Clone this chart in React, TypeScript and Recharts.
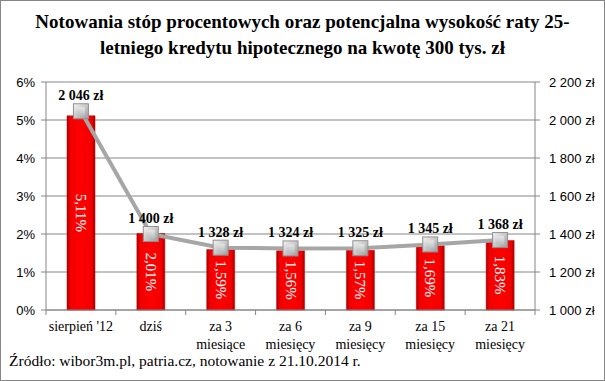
import React from "react";
import {
  ComposedChart,
  Bar,
  Line,
  XAxis,
  YAxis,
  CartesianGrid,
  LabelList,
} from "recharts";

const categories = [
  "sierpień '12",
  "dziś",
  "za 3\nmiesiące",
  "za 6\nmiesięcy",
  "za 9\nmiesięcy",
  "za 15\nmiesięcy",
  "za 21\nmiesięcy",
];
const rates = [5.11, 2.01, 1.59, 1.56, 1.57, 1.69, 1.83];
const payments = [2046, 1400, 1328, 1324, 1325, 1345, 1368];
const rateTicks = [0, 1, 2, 3, 4, 5, 6];
const paymentTicks = [1000, 1200, 1400, 1600, 1800, 2000, 2200];

const data = categories.map((name, i) => ({
  name,
  rate: rates[i],
  payment: payments[i],
}));

const SERIF = "'Liberation Serif', 'DejaVu Serif', serif";
const SANS = "'Liberation Sans', Arial, sans-serif";
const GRID = "#868686";

const fmtZl = (v: number) =>
  `${String(v).replace(/\B(?=(\d{3})+(?!\d))/g, " ")} zł`;
const fmtPct = (v: number) => `${v.toFixed(2).replace(".", ",")}%`;

function XTick(props: any) {
  const { x, y, payload, index } = props;
  const half = payload?.offset || 35;
  const lines = String(payload.value).split("\n");
  return (
    <g>
      <line x1={x - half} y1={y} x2={x - half} y2={y + 5} stroke={GRID} />
      {index === categories.length - 1 && (
        <line x1={x + half} y1={y} x2={x + half} y2={y + 5} stroke={GRID} />
      )}
      {lines.map((l, i) => (
        <text
          key={i}
          x={x}
          y={y + 21 + i * 18}
          textAnchor="middle"
          fontFamily={SERIF}
          fontSize={14}
          fill="#000"
        >
          {l}
        </text>
      ))}
    </g>
  );
}

function Marker(props: any) {
  const { cx, cy } = props;
  if (cx == null || cy == null) return null;
  return (
    <g>
      <rect
        x={cx - 7.5}
        y={cy - 7.5}
        width={15}
        height={15}
        fill="url(#markerGrad)"
        stroke="#8f8f8f"
        strokeWidth={1}
      />
      <rect x={cx - 4} y={cy - 4} width={8} height={8} fill="url(#markerInner)" />
    </g>
  );
}

function PaymentLabel(props: any) {
  const { x, y, value } = props;
  return (
    <text
      x={x}
      y={y - 11}
      textAnchor="middle"
      fontFamily={SERIF}
      fontWeight="bold"
      fontSize={14}
      fill="#000"
    >
      {fmtZl(value)}
    </text>
  );
}

function RateLabel(props: any) {
  const { x, y, width, height, value } = props;
  const cx = x + width / 2;
  const cy = y + height / 2;
  return (
    <text
      x={cx}
      y={cy}
      transform={`rotate(90 ${cx} ${cy})`}
      textAnchor="middle"
      dominantBaseline="central"
      fontFamily={SERIF}
      fontSize={15}
      fill="#fff"
    >
      {fmtPct(value)}
    </text>
  );
}

export default function App() {
  return (
    <div
      style={{
        position: "absolute",
        left: 0,
        top: 0,
        width: 605,
        height: 381,
        boxSizing: "border-box",
        border: "1px solid #868686",
        background: "#fff",
        overflow: "hidden",
      }}
    >
      <div
        style={{
          position: "absolute",
          left: 0,
          top: 8,
          width: 603,
          textAlign: "center",
          fontFamily: SERIF,
          fontWeight: "bold",
          fontSize: 19,
          lineHeight: "26px",
          color: "#000",
        }}
      >
        Notowania stóp procentowych oraz potencjalna wysokość raty 25-
        <br />
        letniego kredytu hipotecznego na kwotę 300 tys. zł
      </div>
      <div style={{ position: "absolute", left: -1, top: -1 }}>
        <ComposedChart
          width={605}
          height={381}
          data={data}
          margin={{ top: 82, right: 0, bottom: 31, left: 0 }}
        >
          <defs>
            <linearGradient id="barGrad" x1="0" y1="0" x2="1" y2="0">
              <stop offset="0%" stopColor="#a80000" />
              <stop offset="12%" stopColor="#f20000" />
              <stop offset="50%" stopColor="#ff0000" />
              <stop offset="88%" stopColor="#f20000" />
              <stop offset="100%" stopColor="#a80000" />
            </linearGradient>
            <linearGradient id="markerGrad" x1="0" y1="0" x2="1" y2="1">
              <stop offset="0%" stopColor="#f4f4f4" />
              <stop offset="100%" stopColor="#9c9c9c" />
            </linearGradient>
            <linearGradient id="markerInner" x1="0" y1="0" x2="0" y2="1">
              <stop offset="0%" stopColor="#e6e6e6" />
              <stop offset="100%" stopColor="#bdbdbd" />
            </linearGradient>
          </defs>
          <CartesianGrid
            yAxisId="left"
            vertical={false}
            stroke={GRID}
            strokeWidth={1}
          />
          <XAxis
            dataKey="name"
            height={40}
            interval={0}
            tickLine={false}
            tickSize={0}
            tickMargin={0}
            axisLine={{ stroke: GRID }}
            tick={<XTick />}
          />
          <YAxis
            yAxisId="left"
            width={46}
            domain={[0, 6]}
            ticks={rateTicks}
            tickFormatter={(v: number) => `${v}%`}
            axisLine={{ stroke: GRID }}
            tickLine={{ stroke: GRID }}
            tickSize={5}
            tickMargin={6}
            tick={{ fill: "#000", fontSize: 13, fontFamily: SANS }}
          />
          <YAxis
            yAxisId="right"
            orientation="right"
            width={70}
            domain={[1000, 2200]}
            ticks={paymentTicks}
            tickFormatter={fmtZl}
            axisLine={{ stroke: GRID }}
            tickLine={{ stroke: GRID }}
            tickSize={5}
            tickMargin={9}
            tick={{ fill: "#000", fontSize: 13, fontFamily: SANS }}
          />
          <Bar
            yAxisId="left"
            dataKey="rate"
            barSize={28}
            fill="url(#barGrad)"
            stroke="#c00000"
            strokeWidth={0.5}
            isAnimationActive={false}
          >
            <LabelList dataKey="rate" content={<RateLabel />} />
          </Bar>
          <Line
            yAxisId="right"
            dataKey="payment"
            stroke="#a6a6a6"
            strokeWidth={4}
            dot={<Marker />}
            activeDot={false}
            isAnimationActive={false}
          >
            <LabelList dataKey="payment" content={<PaymentLabel />} />
          </Line>
        </ComposedChart>
      </div>
      <div
        style={{
          position: "absolute",
          left: 8,
          top: 351,
          fontFamily: SERIF,
          fontSize: 15.5,
          color: "#000",
          whiteSpace: "nowrap",
        }}
      >
        Źródło: wibor3m.pl, patria.cz, notowanie z 21.10.2014 r.
      </div>
    </div>
  );
}
